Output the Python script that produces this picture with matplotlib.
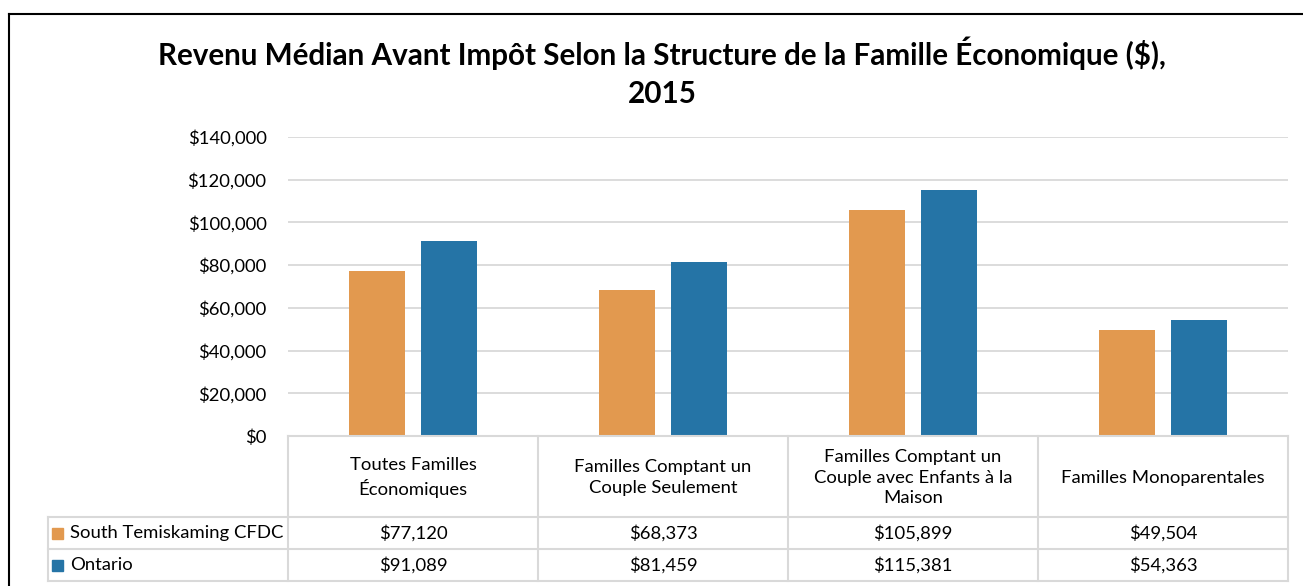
import numpy as np
import matplotlib
matplotlib.use("Agg")
import matplotlib.pyplot as plt
from matplotlib.patches import Rectangle
from matplotlib.lines import Line2D

# data
categories = ["Toutes Familles\nÉconomiques",
              "Familles Comptant un\nCouple Seulement",
              "Familles Comptant un\nCouple avec Enfants à la\nMaison",
              "Familles Monoparentales"]
series_names = ["South Temiskaming CFDC", "Ontario"]
south_temiskaming = [77120, 68373, 105899, 49504]
ontario = [91089, 81459, 115381, 54363]
y_ticks = [0, 20000, 40000, 60000, 80000, 100000, 120000, 140000]

colors = ["#E2994F", "#2574A6"]
grid_col = "#D9D9D9"

plt.rcParams['font.family'] = ['Lato', 'DejaVu Sans']

W, H = 1303, 586
fig = plt.figure(figsize=(W / 100, H / 100), dpi=100)

def box(x0, y0, x1, y1):
    # pixel box (top-left origin) -> figure fraction rect
    return [x0 / W, 1 - y1 / H, (x1 - x0) / W, (y1 - y0) / H]

# black frame on left and top
fig.add_artist(Line2D([8.5 / W, 8.5 / W], [0, 1 - 13.5 / H], color="black", lw=1.5, transform=fig.transFigure))
fig.add_artist(Line2D([8.5 / W, 1], [1 - 13.5 / H, 1 - 13.5 / H], color="black", lw=1.5, transform=fig.transFigure))

fig.text(662 / W, 1 - 53 / H, "Revenu Médian Avant Impôt Selon la Structure de la Famille Économique ($),",
         ha="center", va="center", fontsize=21.3, fontweight="bold")
fig.text(662 / W, 1 - 94 / H, "2015", ha="center", va="center", fontsize=21.3, fontweight="bold")

# main bar axes
ax = fig.add_axes(box(288, 137, 1288, 436))
x = np.arange(len(categories))
w = 0.224
off = 0.144
ax.bar(x - off, south_temiskaming, w, color=colors[0], zorder=3)
ax.bar(x + off, ontario, w, color=colors[1], zorder=3)
ax.set_xlim(-0.5, len(categories) - 0.5)
ax.set_ylim(0, 140000)
ax.set_yticks(y_ticks)
ax.set_yticklabels(["${:,.0f}".format(v) for v in y_ticks], fontsize=13.3)
ax.set_xticks([])
ax.tick_params(axis="y", length=0, pad=15.5)
ax.grid(axis="y", color=grid_col, lw=1.3, zorder=0)
for s in ax.spines.values():
    s.set_visible(False)

# data table under the chart
tx = fig.add_axes(box(48, 436, 1288, 582))
left = -0.5 - 240 / 250
tx.set_xlim(left, len(categories) - 0.5)
tx.set_ylim(582, 436)
tx.axis("off")
rows = [436, 517, 549, 581]
lk = dict(color=grid_col, lw=1.5, clip_on=False)
tx.plot([-0.5, len(categories) - 0.5], [rows[0], rows[0]], **lk)
for r in rows[1:]:
    tx.plot([left, len(categories) - 0.5], [r, r], **lk)
for c in range(len(categories) + 1):
    tx.plot([c - 0.5, c - 0.5], [rows[0], rows[-1]], **lk)
tx.plot([left, left], [rows[1], rows[-1]], **lk)

for i, cat in enumerate(categories):
    tx.text(i, (rows[0] + rows[1]) / 2 + 1, cat, ha="center", va="center", fontsize=13.3, linespacing=1.35)
for j, vals in enumerate([south_temiskaming, ontario]):
    yc = (rows[j + 1] + rows[j + 2]) / 2
    for i, v in enumerate(vals):
        tx.text(i, yc, "${:,.0f}".format(v), ha="center", va="center", fontsize=13.3)
    tx.add_patch(Rectangle((left + 4 / 250, yc - 5.5), 11 / 250, 11, color=colors[j], clip_on=False))
    tx.text(left + 22 / 250, yc, series_names[j], ha="left", va="center", fontsize=13.3)

fig.savefig("out.png", dpi=100)
